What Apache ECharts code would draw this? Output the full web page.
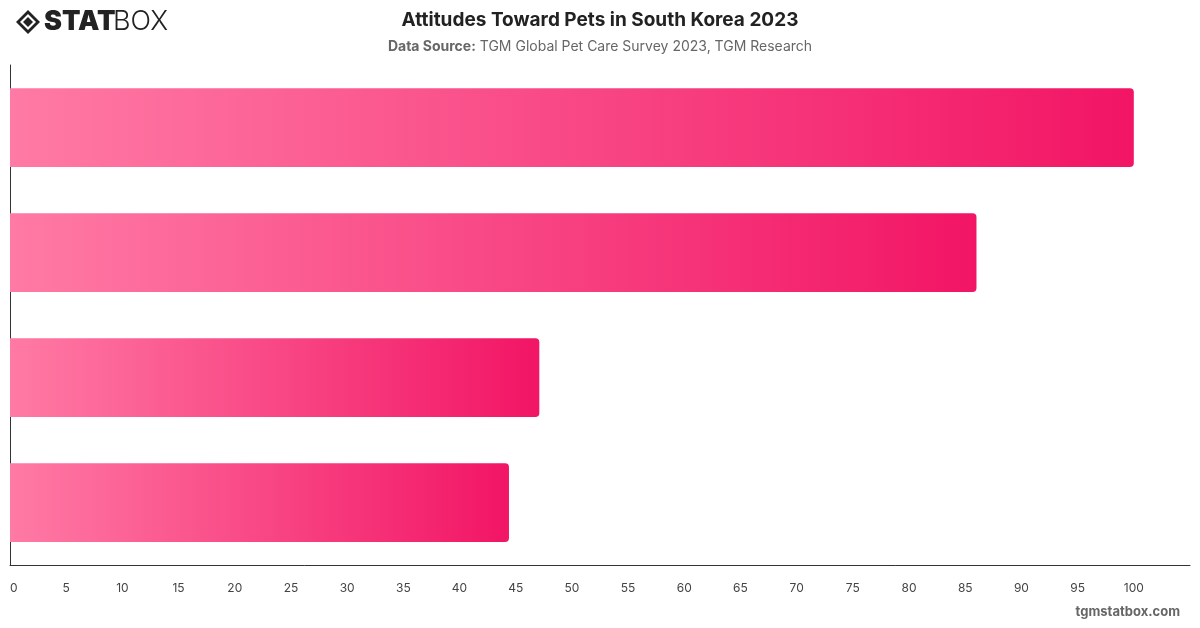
<!DOCTYPE html>
<html>
<head>
<meta charset="utf-8">
<script src="https://cdn.jsdelivr.net/npm/echarts@6/dist/echarts.min.js"></script>
<style>
  html, body { margin: 0; padding: 0; background: #fff; }
  #chart { width: 1200px; height: 628px; }
</style>
</head>
<body>
<div id="chart"></div>
<script>
// categories (labels hidden in the original), bottom to top
var categories = ["Attitude 4", "Attitude 3", "Attitude 2", "Attitude 1"];
var values = [44.4, 47.1, 86, 100];

var chart = echarts.init(document.getElementById("chart"));
var font = "Inter, 'Noto Sans', sans-serif";

chart.setOption({
  animation: false,
  textStyle: { fontFamily: font },
  title: [
    {
      text: "Attitudes Toward Pets in South Korea 2023",
      left: "center",
      top: 6,
      textStyle: { fontSize: 19, fontWeight: "bold", color: "#222", fontFamily: font }
    },
    {
      text: "{b|Data Source:} TGM Global Pet Care Survey 2023, TGM Research",
      left: "center",
      top: 35,
      textStyle: {
        fontSize: 14,
        fontWeight: "normal",
        color: "#666",
        fontFamily: font,
        rich: { b: { fontWeight: "bold", fontSize: 14, color: "#666", fontFamily: font } }
      }
    }
  ],
  graphic: [
    // logo diamond
    {
      type: "polygon",
      shape: { points: [[28, 10], [40, 22], [28, 34], [16, 22]] },
      style: { fill: "#222" }
    },
    {
      type: "polygon",
      shape: { points: [[28, 14], [36, 22], [28, 30], [20, 22]] },
      style: { fill: "#fff" }
    },
    {
      type: "polygon",
      shape: { points: [[28, 17], [33, 22], [28, 27], [23, 22]] },
      style: { fill: "#222" }
    },
    {
      type: "text",
      left: 44,
      top: 8,
      style: { text: "STAT", fontSize: 27, fontWeight: 900, fill: "#222", fontFamily: font }
    },
    {
      type: "text",
      left: 113,
      top: 8,
      style: { text: "BOX", fontSize: 27, fontWeight: 300, fill: "#222", fontFamily: font }
    },
    {
      type: "text",
      right: 20,
      top: 606,
      style: { text: "tgmstatbox.com", fontSize: 13, fontWeight: "bold", fill: "#666", fontFamily: font }
    }
  ],
  grid: { left: 10, right: 10, top: 65, bottom: 63, containLabel: false },
  xAxis: {
    type: "value",
    min: 0,
    max: 105,
    interval: 5,
    axisLine: { show: true, lineStyle: { color: "#333", width: 1 } },
    axisTick: { show: false },
    splitLine: { show: false },
    axisLabel: {
      color: "#444",
      fontSize: 12,
      margin: 17,
      showMaxLabel: false,
      alignMinLabel: "left"
    }
  },
  yAxis: {
    type: "category",
    data: categories,
    axisLine: { show: true, lineStyle: { color: "#333", width: 1 } },
    axisTick: { show: false },
    axisLabel: { show: false }
  },
  series: [
    {
      type: "bar",
      data: values,
      barCategoryGap: "37%",
      itemStyle: {
        borderRadius: [0, 4, 4, 0],
        color: new echarts.graphic.LinearGradient(0, 0, 1, 0, [
          { offset: 0, color: "#FF7AA5" },
          { offset: 1, color: "#F21565" }
        ])
      }
    }
  ]
});
</script>
</body>
</html>
